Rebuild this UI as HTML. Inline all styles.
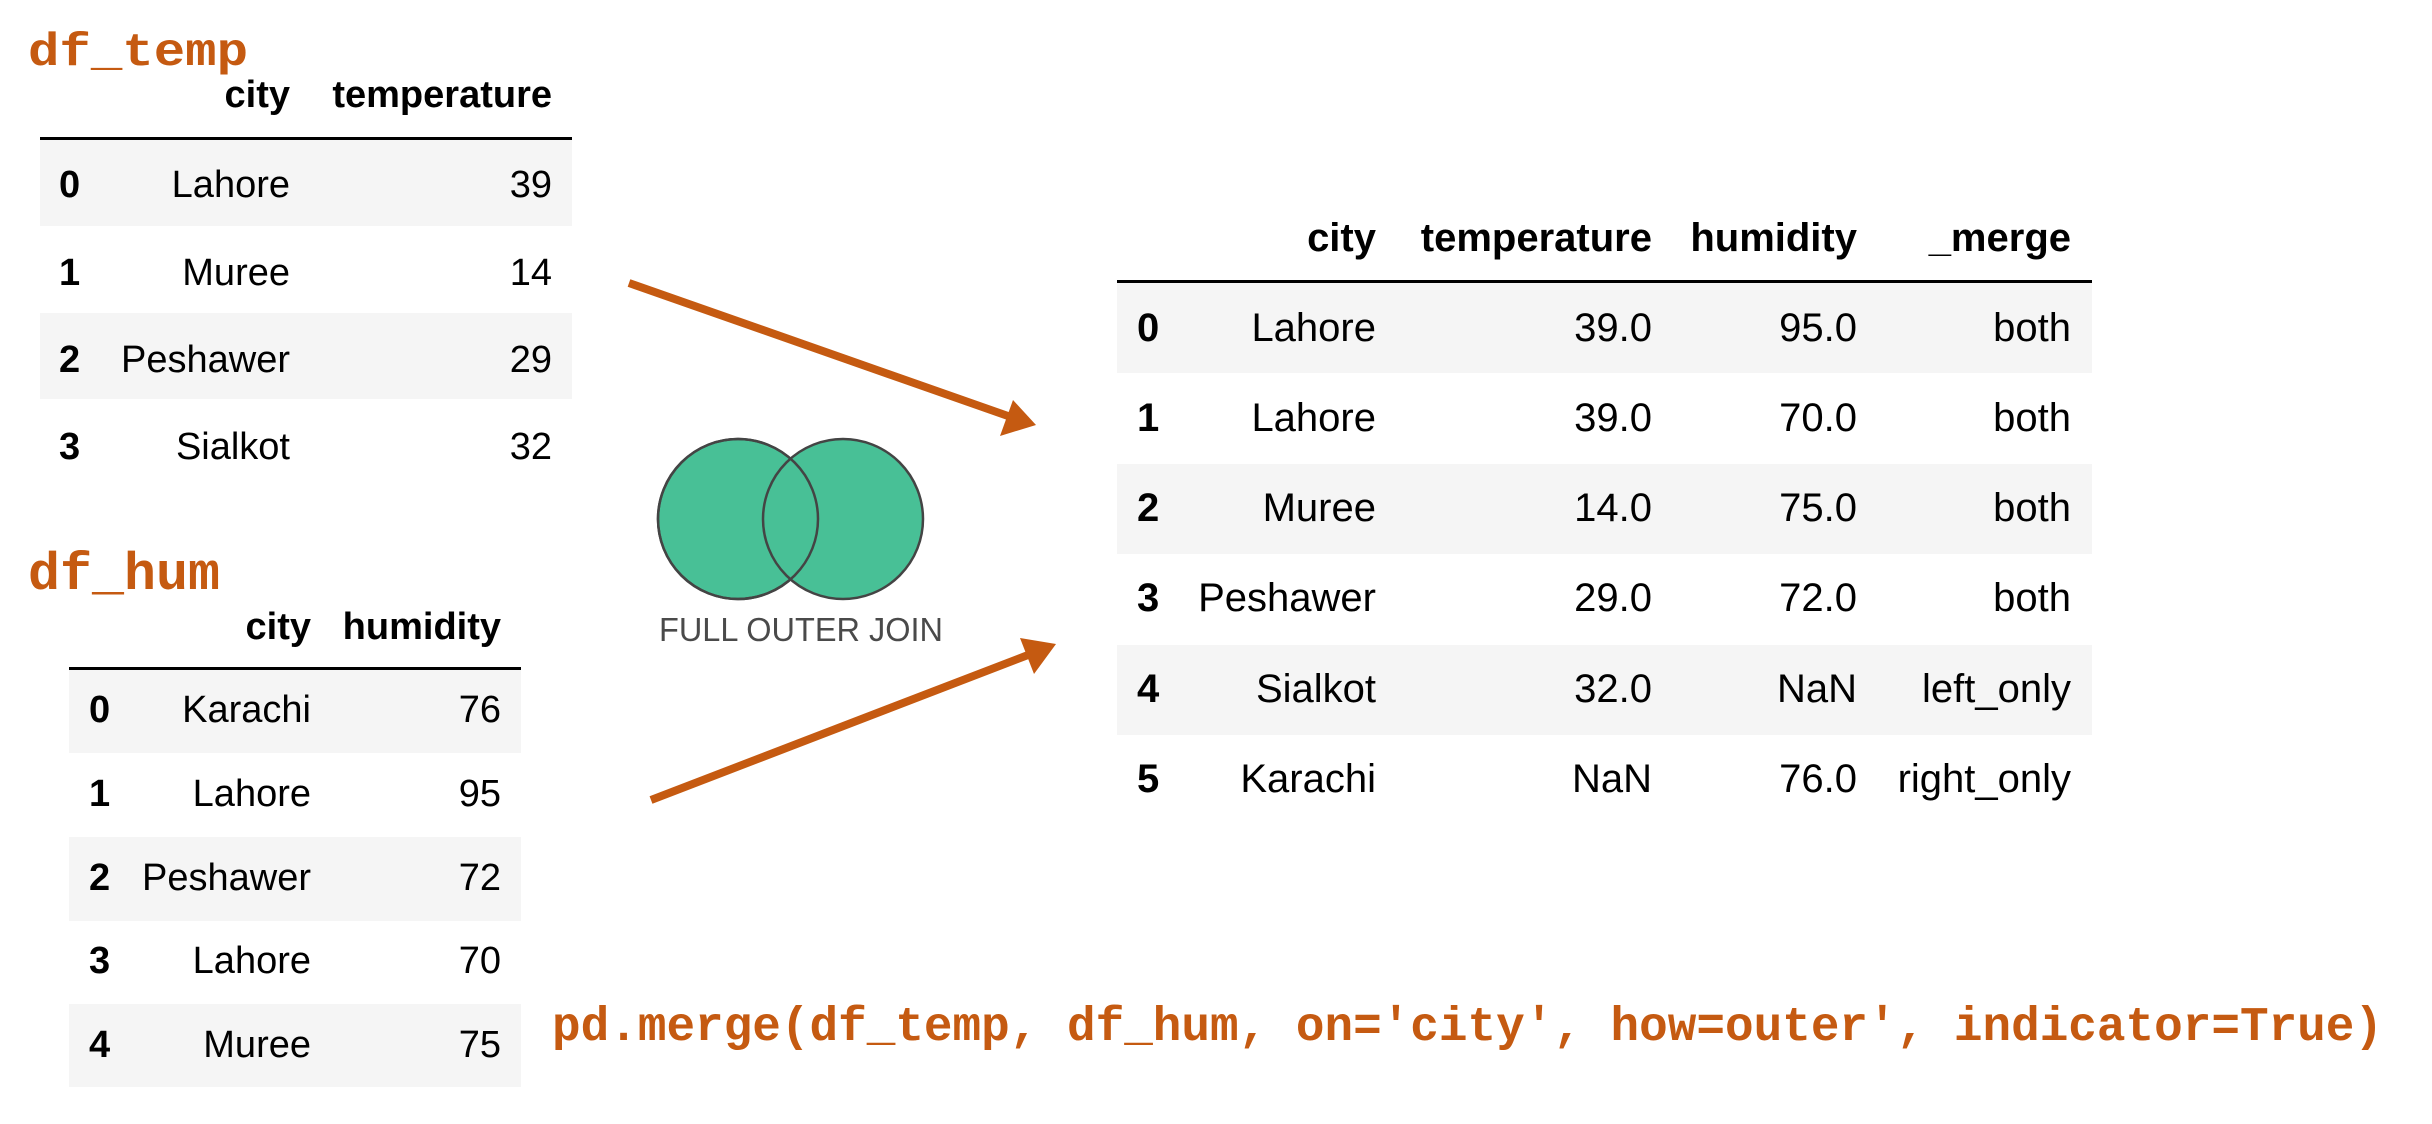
<!DOCTYPE html>
<html><head><meta charset="utf-8"><style>
html,body{margin:0;padding:0;background:#fff;}
svg{display:block;}
.c{font-family:"Liberation Mono","Courier New",monospace;font-weight:bold;fill:#c55a11;}
.t{font-family:"Liberation Sans",Arial,sans-serif;font-size:38px;fill:#000;}
.h{font-family:"Liberation Sans",Arial,sans-serif;font-size:38px;font-weight:bold;fill:#000;}
.r .t,.r .h{font-size:40px;}
</style></head><body>
<svg width="2432" height="1124" viewBox="0 0 2432 1124" xmlns="http://www.w3.org/2000/svg">
<rect width="2432" height="1124" fill="#fff"/>

<!-- df_temp -->
<text class="c" x="28" y="65" font-size="46" textLength="220" lengthAdjust="spacingAndGlyphs">df_temp</text>
<rect x="40" y="140" width="532" height="86" fill="#f5f5f5"/>
<rect x="40" y="313" width="532" height="86" fill="#f5f5f5"/>
<rect x="40" y="137" width="532" height="3" fill="#000"/>
<g text-anchor="end">
<text class="h" x="290" y="107">city</text>
<text class="h" x="552" y="107">temperature</text>
<text class="t" x="290" y="197">Lahore</text><text class="t" x="552" y="197">39</text>
<text class="t" x="290" y="285">Muree</text><text class="t" x="552" y="285">14</text>
<text class="t" x="290" y="372">Peshawer</text><text class="t" x="552" y="372">29</text>
<text class="t" x="290" y="459">Sialkot</text><text class="t" x="552" y="459">32</text>
</g>
<text class="h" x="59" y="197">0</text>
<text class="h" x="59" y="285">1</text>
<text class="h" x="59" y="372">2</text>
<text class="h" x="59" y="459">3</text>

<!-- df_hum -->
<text class="c" x="28" y="589" font-size="53" textLength="192" lengthAdjust="spacingAndGlyphs">df_hum</text>
<rect x="69" y="670" width="452" height="83" fill="#f5f5f5"/>
<rect x="69" y="837" width="452" height="84" fill="#f5f5f5"/>
<rect x="69" y="1004" width="452" height="83" fill="#f5f5f5"/>
<rect x="69" y="667" width="452" height="3" fill="#000"/>
<g text-anchor="end">
<text class="h" x="311" y="639" font-size="36">city</text>
<text class="h" x="501" y="639" font-size="36">humidity</text>
<text class="t" x="311" y="722" font-size="36">Karachi</text><text class="t" x="501" y="722" font-size="36">76</text>
<text class="t" x="311" y="806" font-size="36">Lahore</text><text class="t" x="501" y="806" font-size="36">95</text>
<text class="t" x="311" y="890" font-size="36">Peshawer</text><text class="t" x="501" y="890" font-size="36">72</text>
<text class="t" x="311" y="973" font-size="36">Lahore</text><text class="t" x="501" y="973" font-size="36">70</text>
<text class="t" x="311" y="1057" font-size="36">Muree</text><text class="t" x="501" y="1057" font-size="36">75</text>
</g>
<text class="h" x="89" y="722" font-size="36">0</text>
<text class="h" x="89" y="806" font-size="36">1</text>
<text class="h" x="89" y="890" font-size="36">2</text>
<text class="h" x="89" y="973" font-size="36">3</text>
<text class="h" x="89" y="1057" font-size="36">4</text>

<!-- result -->
<g class="r">
<rect x="1117" y="283" width="975" height="90" fill="#f5f5f5"/>
<rect x="1117" y="464" width="975" height="90" fill="#f5f5f5"/>
<rect x="1117" y="645" width="975" height="90" fill="#f5f5f5"/>
<rect x="1117" y="280" width="975" height="3" fill="#000"/>
<g text-anchor="end">
<text class="h" x="1376" y="251">city</text>
<text class="h" x="1652" y="251">temperature</text>
<text class="h" x="1857" y="251">humidity</text>
<text class="h" x="2071" y="251">_merge</text>

<text class="t" x="1376" y="341">Lahore</text><text class="t" x="1652" y="341">39.0</text><text class="t" x="1857" y="341">95.0</text><text class="t" x="2071" y="341">both</text>
<text class="t" x="1376" y="431">Lahore</text><text class="t" x="1652" y="431">39.0</text><text class="t" x="1857" y="431">70.0</text><text class="t" x="2071" y="431">both</text>
<text class="t" x="1376" y="521">Muree</text><text class="t" x="1652" y="521">14.0</text><text class="t" x="1857" y="521">75.0</text><text class="t" x="2071" y="521">both</text>
<text class="t" x="1376" y="611">Peshawer</text><text class="t" x="1652" y="611">29.0</text><text class="t" x="1857" y="611">72.0</text><text class="t" x="2071" y="611">both</text>
<text class="t" x="1376" y="702">Sialkot</text><text class="t" x="1652" y="702">32.0</text><text class="t" x="1857" y="702">NaN</text><text class="t" x="2071" y="702">left_only</text>
<text class="t" x="1376" y="792">Karachi</text><text class="t" x="1652" y="792">NaN</text><text class="t" x="1857" y="792">76.0</text><text class="t" x="2071" y="792">right_only</text>
</g>
<text class="h" x="1137" y="341">0</text>
<text class="h" x="1137" y="431">1</text>
<text class="h" x="1137" y="521">2</text>
<text class="h" x="1137" y="611">3</text>
<text class="h" x="1137" y="702">4</text>
<text class="h" x="1137" y="792">5</text>
</g>

<!-- venn -->
<circle cx="738" cy="519" r="80" fill="#48c096" stroke="#444" stroke-width="2.5"/>
<circle cx="843" cy="519" r="80" fill="#48c096" stroke="#444" stroke-width="2.5"/>
<circle cx="738" cy="519" r="80" fill="none" stroke="#444" stroke-width="2.5"/>
<text x="659" y="641" font-family="'Liberation Sans',Arial,sans-serif" font-size="33" fill="#4a4a4a" textLength="284" lengthAdjust="spacingAndGlyphs">FULL OUTER JOIN</text>

<!-- arrows -->
<line x1="629" y1="283" x2="1008" y2="416" stroke="#c55a11" stroke-width="8"/>
<polygon points="1036,425 1000,436 1013,400" fill="#c55a11"/>
<line x1="651" y1="800" x2="1028" y2="655" stroke="#c55a11" stroke-width="8"/>
<polygon points="1056,644 1034,674 1020,638" fill="#c55a11"/>

<!-- code -->
<text class="c" x="552" y="1040" font-size="48" textLength="1831" lengthAdjust="spacingAndGlyphs">pd.merge(df_temp, df_hum, on='city', how=outer', indicator=True)</text>
</svg>
</body></html>
